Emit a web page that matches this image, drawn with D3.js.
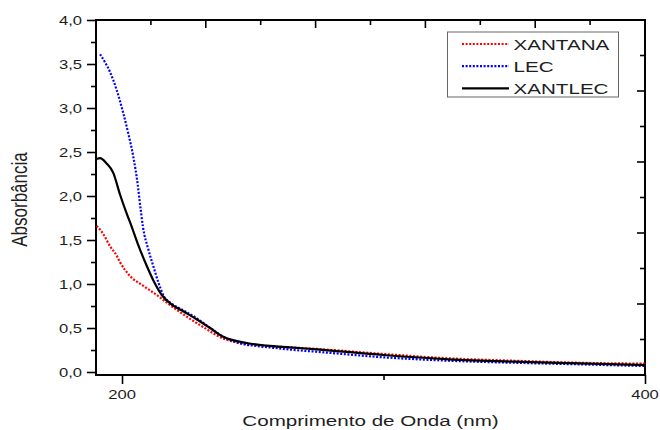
<!DOCTYPE html>
<html>
<head>
<meta charset="utf-8">
<script src="https://cdn.jsdelivr.net/npm/d3@7/dist/d3.min.js"></script>
<style>
  html, body { margin: 0; padding: 0; background: #fff; }
  svg { display: block; }
  text { font-family: "Liberation Sans", Arial, sans-serif; fill: #1e1e1e; }
</style>
</head>
<body>
<svg id="chart" width="660" height="430"></svg>
<script>
// Absorbance spectra (wavelength in nm, absorbance)
const wavelengthXantana = [190.3, 192.8, 195.4, 198, 199.2, 203.1, 208.1, 213.3, 218.4, 224.7, 231.1, 238.7, 246.4, 254, 264.2, 274.5, 300, 325, 350, 375, 400];
const absXantana = [1.66, 1.57, 1.43, 1.32, 1.25, 1.09, 0.98, 0.875, 0.76, 0.63, 0.51, 0.38, 0.325, 0.30, 0.28, 0.262, 0.205, 0.155, 0.128, 0.105, 0.095];

const wavelengthLec = [191.6, 193.5, 195.4, 198, 200.5, 202.4, 204.3, 206, 207, 208, 210, 212, 214, 216, 218.4, 223.5, 228.6, 233.7, 238.8, 245.2, 251.6, 258, 264.2, 274.5, 300, 325, 350, 375, 400];
const absLec = [3.61, 3.52, 3.41, 3.20, 2.94, 2.71, 2.45, 2.13, 1.88, 1.65, 1.40, 1.20, 1.01, 0.86, 0.79, 0.70, 0.61, 0.50, 0.40, 0.325, 0.295, 0.275, 0.255, 0.23, 0.167, 0.128, 0.105, 0.087, 0.068];

const wavelengthXantlec = [190.3, 191.6, 194.1, 196.7, 199.2, 201.8, 203.1, 206, 209.4, 212, 215.2, 218.4, 223.4, 228.5, 233.7, 238.7, 247.7, 255.3, 264.2, 274.5, 300, 325, 350, 375, 400];
const absXantlec = [2.42, 2.43, 2.37, 2.26, 2.02, 1.80, 1.70, 1.46, 1.21, 1.04, 0.875, 0.78, 0.69, 0.60, 0.50, 0.40, 0.33, 0.30, 0.28, 0.258, 0.193, 0.144, 0.117, 0.098, 0.08];

const seriesNames = ["XANTANA", "LEC", "XANTLEC"];
const seriesColors = ["#ff0000", "#0000ff", "#000000"];

const xMajorTicks = [200, 400];
const xMinorTicks = [300];
const yMajorTicks = [0, 0.5, 1.0, 1.5, 2.0, 2.5, 3.0, 3.5, 4.0];
const yMinorTicks = [0.25, 0.75, 1.25, 1.75, 2.25, 2.75, 3.25, 3.75];
const frameTicks = d3.range(0, 11);

const xTitle = "Comprimento de Onda (nm)";
const yTitle = "Absorbância";

// layout
const plotLeft = 96, plotRight = 645, plotTop = 20, plotBottom = 375;
const stretch = 1.33;

const svg = d3.select("#chart");

const x = d3.scaleLinear().domain([190.05, 400]).range([plotLeft, plotRight]);
const y = d3.scaleLinear().domain([-0.034, 4.0]).range([plotBottom, plotTop]);

const fmt = d => d.toFixed(1).replace(".", ",");

// left axis: major ticks with labels, minor ticks without
const yAxisG = svg.append("g").attr("transform", `translate(${plotLeft},0)`);
yAxisG.call(d3.axisLeft(y).tickValues(yMajorTicks).tickSize(9).tickSizeOuter(0).tickFormat(""));
yAxisG.append("g").call(d3.axisLeft(y).tickValues(yMinorTicks).tickSize(5).tickSizeOuter(0).tickFormat(""));
yAxisG.selectAll(".domain").remove();
yAxisG.selectAll("line").attr("stroke", "#000").attr("stroke-width", 1.6);

yMajorTicks.forEach(v => {
  svg.append("text")
    .attr("transform", `translate(${plotLeft - 14},${y(v) + 4.6}) scale(${stretch},1)`)
    .attr("text-anchor", "end")
    .attr("font-size", 12.5)
    .text(fmt(v));
});

// bottom axis
const xAxisG = svg.append("g").attr("transform", `translate(0,${plotBottom})`);
xAxisG.call(d3.axisBottom(x).tickValues(xMajorTicks).tickSize(9).tickSizeOuter(0).tickFormat(""));
xAxisG.append("g").call(d3.axisBottom(x).tickValues(xMinorTicks).tickSize(5).tickSizeOuter(0).tickFormat(""));
xAxisG.selectAll(".domain").remove();
xAxisG.selectAll("line").attr("stroke", "#000").attr("stroke-width", 1.6);

xMajorTicks.forEach(v => {
  svg.append("text")
    .attr("transform", `translate(${x(v)},${plotBottom + 23.5}) scale(${stretch},1)`)
    .attr("text-anchor", "middle")
    .attr("font-size", 12.5)
    .text(String(v));
});

// top and right axes: inward ticks only
const xTop = d3.scaleLinear().domain([0, 10]).range([plotLeft, plotRight]);
const yRight = d3.scaleLinear().domain([0, 10]).range([plotBottom, plotTop]);
const inner = frameTicks.filter(d => d > 0 && d < 10);

svg.append("g").selectAll("line").data(inner).join("line")
  .attr("x1", d => xTop(d)).attr("x2", d => xTop(d))
  .attr("y1", plotTop).attr("y2", d => plotTop + (d % 2 === 0 ? 8 : 5))
  .attr("stroke", "#000").attr("stroke-width", 1.6);

svg.append("g").selectAll("line").data(inner).join("line")
  .attr("y1", d => yRight(d)).attr("y2", d => yRight(d))
  .attr("x1", plotRight).attr("x2", d => plotRight - (d % 2 === 0 ? 8 : 5))
  .attr("stroke", "#000").attr("stroke-width", 1.6);

// frame
svg.append("rect")
  .attr("x", plotLeft).attr("y", plotTop)
  .attr("width", plotRight - plotLeft).attr("height", plotBottom - plotTop)
  .attr("fill", "none").attr("stroke", "#000").attr("stroke-width", 2);

// curves
const line = d3.line()
  .x(d => x(d[0]))
  .y(d => y(d[1]))
  .curve(d3.curveMonotoneX);

const series = [
  { wl: wavelengthXantana, ab: absXantana, dash: "2,1.6", width: 2.2 },
  { wl: wavelengthLec, ab: absLec, dash: "2,1.6", width: 2.2 },
  { wl: wavelengthXantlec, ab: absXantlec, dash: null, width: 2.2 }
];

const plot = svg.append("g");
series.forEach((s, i) => {
  plot.append("path")
    .datum(d3.zip(s.wl, s.ab))
    .attr("d", line)
    .attr("fill", "none")
    .attr("stroke", seriesColors[i])
    .attr("stroke-width", s.width)
    .attr("stroke-dasharray", s.dash);
});

// legend
const legend = svg.append("g");
legend.append("rect")
  .attr("x", 447.5).attr("y", 32)
  .attr("width", 171).attr("height", 65)
  .attr("fill", "#fff").attr("stroke", "#666").attr("stroke-width", 1);

seriesNames.forEach((name, i) => {
  const cy = 44 + i * 22.2;
  legend.append("line")
    .attr("x1", 462).attr("x2", 509)
    .attr("y1", cy).attr("y2", cy)
    .attr("stroke", seriesColors[i])
    .attr("stroke-width", series[i].width)
    .attr("stroke-dasharray", series[i].dash);
  legend.append("text")
    .attr("transform", `translate(513.5,${cy + 5.6}) scale(${stretch},1)`)
    .attr("font-size", 15.5)
    .text(name);
});

// axis titles
svg.append("text")
  .attr("transform", `translate(${(plotLeft + plotRight) / 2},${plotBottom + 51}) scale(${stretch},1)`)
  .attr("text-anchor", "middle")
  .attr("font-size", 15.5)
  .text(xTitle);

svg.append("text")
  .attr("transform", `translate(27,${(plotTop + plotBottom) / 2 + 2}) scale(${stretch},1) rotate(-90)`)
  .attr("text-anchor", "middle")
  .attr("font-size", 17)
  .text(yTitle);
</script>
</body>
</html>
